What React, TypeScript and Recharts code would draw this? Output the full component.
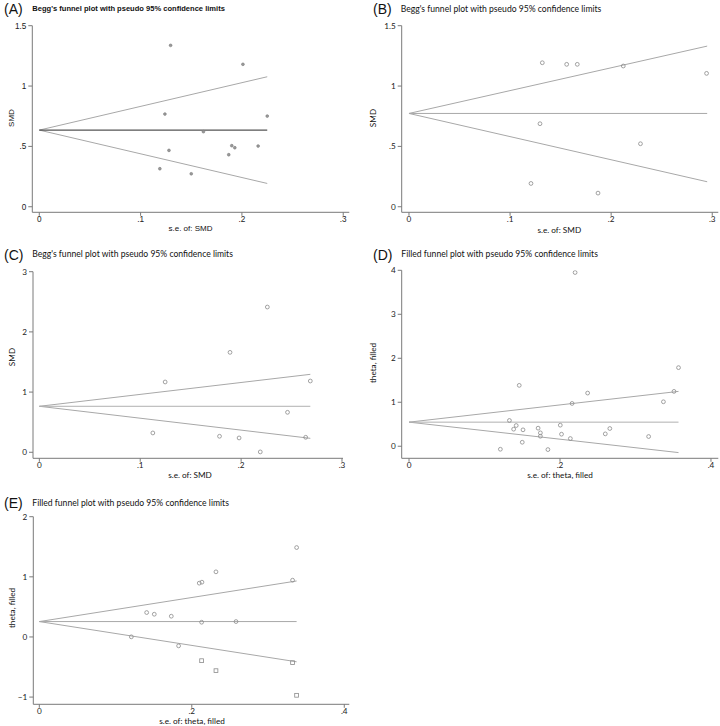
import React from "react";
import { ScatterChart, Scatter, XAxis, YAxis } from "recharts";

// ---------- DATA ----------
// Panel A: Begg's funnel (SMD vs s.e.)
const pointsA = [
  { x: 0.1296, y: 1.337 }, { x: 0.201, y: 1.18 }, { x: 0.124, y: 0.768 },
  { x: 0.225, y: 0.751 }, { x: 0.162, y: 0.622 }, { x: 0.128, y: 0.467 },
  { x: 0.19, y: 0.506 }, { x: 0.193, y: 0.489 }, { x: 0.216, y: 0.503 },
  { x: 0.187, y: 0.431 }, { x: 0.119, y: 0.315 }, { x: 0.15, y: 0.273 },
];
const centerA = [{ x: 0, y: 0.635 }, { x: 0.225, y: 0.635 }];
const upperA = [{ x: 0, y: 0.635 }, { x: 0.225, y: 1.077 }];
const lowerA = [{ x: 0, y: 0.635 }, { x: 0.225, y: 0.193 }];

// Panel B
const pointsB = [
  { x: 0.1319, y: 1.193 }, { x: 0.156, y: 1.18 }, { x: 0.1665, y: 1.18 },
  { x: 0.212, y: 1.166 }, { x: 0.2944, y: 1.105 }, { x: 0.1296, y: 0.688 },
  { x: 0.229, y: 0.522 }, { x: 0.1207, y: 0.193 }, { x: 0.187, y: 0.113 },
];
const centerB = [{ x: 0, y: 0.773 }, { x: 0.295, y: 0.773 }];
const upperB = [{ x: 0, y: 0.773 }, { x: 0.295, y: 1.331 }];
const lowerB = [{ x: 0, y: 0.773 }, { x: 0.295, y: 0.207 }];

// Panel C
const pointsC = [
  { x: 0.226, y: 2.413 }, { x: 0.189, y: 1.66 }, { x: 0.1247, y: 1.168 },
  { x: 0.2686, y: 1.184 }, { x: 0.246, y: 0.664 }, { x: 0.1125, y: 0.321 },
  { x: 0.1786, y: 0.266 }, { x: 0.198, y: 0.238 }, { x: 0.264, y: 0.249 },
  { x: 0.219, y: 0.006 },
];
const centerC = [{ x: 0, y: 0.764 }, { x: 0.2686, y: 0.764 }];
const upperC = [{ x: 0, y: 0.764 }, { x: 0.2686, y: 1.295 }];
const lowerC = [{ x: 0, y: 0.764 }, { x: 0.2686, y: 0.232 }];

// Panel D: filled funnel
const pointsD = [
  { x: 0.22, y: 3.95 }, { x: 0.357, y: 1.787 }, { x: 0.146, y: 1.384 },
  { x: 0.2366, y: 1.209 }, { x: 0.351, y: 1.247 }, { x: 0.337, y: 1.011 },
  { x: 0.216, y: 0.973 }, { x: 0.133, y: 0.586 }, { x: 0.142, y: 0.471 },
  { x: 0.2004, y: 0.479 }, { x: 0.1386, y: 0.388 }, { x: 0.151, y: 0.373 },
  { x: 0.171, y: 0.411 }, { x: 0.266, y: 0.403 }, { x: 0.174, y: 0.304 },
  { x: 0.174, y: 0.228 }, { x: 0.202, y: 0.274 }, { x: 0.26, y: 0.281 },
  { x: 0.2137, y: 0.175 }, { x: 0.3174, y: 0.221 }, { x: 0.15, y: 0.091 },
  { x: 0.121, y: -0.068 }, { x: 0.184, y: -0.076 },
];
const centerD = [{ x: 0, y: 0.548 }, { x: 0.357, y: 0.548 }];
const upperD = [{ x: 0, y: 0.548 }, { x: 0.357, y: 1.247 }];
const lowerD = [{ x: 0, y: 0.548 }, { x: 0.357, y: -0.144 }];

// Panel E: filled funnel (observed + imputed)
const pointsE = [
  { x: 0.3375, y: 1.487 }, { x: 0.2317, y: 1.083 }, { x: 0.2098, y: 0.895 },
  { x: 0.2133, y: 0.911 }, { x: 0.3322, y: 0.944 }, { x: 0.1408, y: 0.406 },
  { x: 0.1508, y: 0.378 }, { x: 0.1731, y: 0.345 }, { x: 0.2129, y: 0.245 },
  { x: 0.258, y: 0.256 }, { x: 0.1207, y: 0.002 }, { x: 0.1827, y: -0.148 },
];
const filledE = [
  { x: 0.2129, y: -0.395 }, { x: 0.2317, y: -0.561 },
  { x: 0.3322, y: -0.428 }, { x: 0.3375, y: -0.97 },
];
const centerE = [{ x: 0, y: 0.256 }, { x: 0.3375, y: 0.256 }];
const upperE = [{ x: 0, y: 0.256 }, { x: 0.3375, y: 0.931 }];
const lowerE = [{ x: 0, y: 0.256 }, { x: 0.3375, y: -0.413 }];

// Ticks
const xTicks3 = [0, 0.1, 0.2, 0.3];
const xLabels3 = ["0", ".1", ".2", ".3"];
const xTicks4 = [0, 0.2, 0.4];
const xLabels4 = ["0", ".2", ".4"];
const yTicksAB = [0, 0.5, 1, 1.5];
const yLabelsAB = ["0", ".5", "1", "1.5"];
const yTicksC = [0, 1, 2, 3];
const yLabelsC = ["0", "1", "2", "3"];
const yTicksD = [0, 1, 2, 3, 4];
const yLabelsD = ["0", "1", "2", "3", "4"];
const yTicksE = [-1, 0, 1, 2];
const yLabelsE = ["\u22121", "0", "1", "2"];

const titleBegg = "Begg's funnel plot with pseudo 95% confidence limits";
const titleFilled = "Filled funnel plot with pseudo 95% confidence limits";

// ---------- SHAPES ----------
const NoShape = () => <g />;
const HollowCircle = (p: any) => (
  <circle cx={p.cx} cy={p.cy} r={1.9} fill="none" stroke="#8a8a8a" strokeWidth={0.8} />
);
const SmallDot = (p: any) => (
  <circle cx={p.cx} cy={p.cy} r={1.4} fill="#9a9a9a" stroke="#7a7a7a" strokeWidth={0.6} />
);
const SquareMark = (p: any) => (
  <rect x={p.cx - 1.9} y={p.cy - 1.9} width={3.8} height={3.8} fill="none" stroke="#8a8a8a" strokeWidth={0.8} />
);

type Cfg = {
  box: { left: number; top: number; w: number; h: number };
  plot: { left: number; right: number; top: number; bottom: number };
  xDomain: [number, number];
  yDomain: [number, number];
  xTicks: number[];
  xLabels: string[];
  yTicks: number[];
  yLabels: string[];
  points: any[];
  filled?: any[];
  center: any[];
  upper: any[];
  lower: any[];
  centerColor: string;
  centerWidth: number;
  font: string;
  marker: any;
};

const Panel = ({ c }: { c: Cfg }) => {
  const { box, plot } = c;
  const margin = {
    top: plot.top - box.top,
    right: box.left + box.w - plot.right,
    left: 0,
    bottom: 0,
  };
  const fmtX = (v: number) => {
    const i = c.xTicks.findIndex((t) => Math.abs(t - v) < 1e-9);
    return i >= 0 ? c.xLabels[i] : "";
  };
  const fmtY = (v: number) => {
    const i = c.yTicks.findIndex((t) => Math.abs(t - v) < 1e-9);
    return i >= 0 ? c.yLabels[i] : "";
  };
  const axisStroke = "#7a7a7a";
  return (
    <div style={{ position: "absolute", left: box.left, top: box.top, fontFamily: c.font }}>
      <ScatterChart width={box.w} height={box.h} margin={margin}>
        <XAxis
          type="number"
          dataKey="x"
          domain={c.xDomain}
          allowDataOverflow
          ticks={c.xTicks}
          tickFormatter={fmtX}
          height={box.top + box.h - plot.bottom}
          stroke={axisStroke}
          tickSize={3.5}
          tickMargin={0.5}
          tick={{ fontSize: 8.2, fill: "#222" }}
          interval={0}
        />
        <YAxis
          type="number"
          dataKey="y"
          domain={c.yDomain}
          allowDataOverflow
          ticks={c.yTicks}
          tickFormatter={fmtY}
          width={plot.left - box.left}
          stroke={axisStroke}
          tickSize={4}
          tickMargin={2}
          tick={{ fontSize: 8.2, fill: "#222" }}
          interval={0}
        />
        <Scatter data={c.upper} line={{ stroke: "#a8a8a8", strokeWidth: 1 }} shape={NoShape} isAnimationActive={false} />
        <Scatter data={c.lower} line={{ stroke: "#a8a8a8", strokeWidth: 1 }} shape={NoShape} isAnimationActive={false} />
        <Scatter data={c.center} line={{ stroke: c.centerColor, strokeWidth: c.centerWidth }} shape={NoShape} isAnimationActive={false} />
        <Scatter data={c.points} shape={c.marker} isAnimationActive={false} />
        {c.filled ? <Scatter data={c.filled} shape={SquareMark} isAnimationActive={false} /> : null}
      </ScatterChart>
    </div>
  );
};

const Txt = ({ x, y, text, size, font, bold, anchor, rotate }: any) => {
  const tx = anchor === "middle" ? "-50%" : "0";
  return (
    <div
      style={{
        position: "absolute",
        left: x,
        top: y,
        fontSize: size,
        fontFamily: font,
        fontWeight: bold ? 700 : 400,
        color: "#111",
        whiteSpace: "nowrap",
        lineHeight: 1,
        transform: rotate
          ? "translate(-50%,-50%) rotate(-90deg)"
          : `translate(${tx},-50%)`,
      }}
    >
      {text}
    </div>
  );
};

const ARIAL = "'Liberation Sans', Arial, sans-serif";
const SANS = "Lato, 'Open Sans', sans-serif";

const cfgA: Cfg = {
  box: { left: 0, top: 0, w: 360, h: 235 },
  plot: { left: 32.3, right: 349.3, top: 25.7, bottom: 212.3 },
  xDomain: [-0.0069, 0.306], yDomain: [-0.046, 1.5],
  xTicks: xTicks3, xLabels: xLabels3, yTicks: yTicksAB, yLabels: yLabelsAB,
  points: pointsA, center: centerA, upper: upperA, lower: lowerA,
  centerColor: "#555", centerWidth: 1.2, font: ARIAL, marker: SmallDot,
};
const cfgB: Cfg = {
  box: { left: 360, top: 0, w: 360, h: 235 },
  plot: { left: 401.7, right: 718.3, top: 25.7, bottom: 212.3 },
  xDomain: [-0.0072, 0.306], yDomain: [-0.046, 1.5],
  xTicks: xTicks3, xLabels: xLabels3, yTicks: yTicksAB, yLabels: yLabelsAB,
  points: pointsB, center: centerB, upper: upperB, lower: lowerB,
  centerColor: "#a8a8a8", centerWidth: 1, font: SANS, marker: HollowCircle,
};
const cfgC: Cfg = {
  box: { left: 0, top: 235, w: 360, h: 235 },
  plot: { left: 33, right: 343, top: 271.7, bottom: 458.3 },
  xDomain: [-0.0063, 0.301], yDomain: [-0.1, 3],
  xTicks: xTicks3, xLabels: xLabels3, yTicks: yTicksC, yLabels: yLabelsC,
  points: pointsC, center: centerC, upper: upperC, lower: lowerC,
  centerColor: "#b0b0b0", centerWidth: 1, font: SANS, marker: HollowCircle,
};
const cfgD: Cfg = {
  box: { left: 360, top: 235, w: 360, h: 235 },
  plot: { left: 401.7, right: 718.3, top: 270.3, bottom: 458.3 },
  xDomain: [-0.0097, 0.4097], yDomain: [-0.274, 4],
  xTicks: xTicks4, xLabels: xLabels4, yTicks: yTicksD, yLabels: yLabelsD,
  points: pointsD, center: centerD, upper: upperD, lower: lowerD,
  centerColor: "#b0b0b0", centerWidth: 1, font: SANS, marker: HollowCircle,
};
const cfgE: Cfg = {
  box: { left: 0, top: 470, w: 360, h: 256 },
  plot: { left: 33.3, right: 349.3, top: 516.7, bottom: 704.3 },
  xDomain: [-0.0079, 0.4066], yDomain: [-1.12, 2],
  xTicks: xTicks4, xLabels: xLabels4, yTicks: yTicksE, yLabels: yLabelsE,
  points: pointsE, filled: filledE, center: centerE, upper: upperE, lower: lowerE,
  centerColor: "#a8a8a8", centerWidth: 1, font: SANS, marker: HollowCircle,
};

export default function App() {
  return (
    <div style={{ position: "absolute", left: 0, top: 0, width: 720, height: 726, background: "#fff", overflow: "hidden" }}>
      <Panel c={cfgA} />
      <Panel c={cfgB} />
      <Panel c={cfgC} />
      <Panel c={cfgD} />
      <Panel c={cfgE} />

      <Txt x={4} y={9} text="(A)" size={14} font={ARIAL} />
      <Txt x={32.3} y={9} text={titleBegg} size={7.55} font={ARIAL} bold />
      <Txt x={12} y={118} text="SMD" size={8} font={ARIAL} rotate />
      <Txt x={190.5} y={229} text="s.e. of: SMD" size={8} font={ARIAL} anchor="middle" />

      <Txt x={373} y={9} text="(B)" size={14} font={ARIAL} />
      <Txt x={400.7} y={9} text={titleBegg} size={8.6} font={SANS} />
      <Txt x={372.7} y={118} text="SMD" size={8.2} font={SANS} rotate />
      <Txt x={559.3} y={229.5} text="s.e. of: SMD" size={8.2} font={SANS} anchor="middle" />

      <Txt x={4} y={254.5} text="(C)" size={14} font={ARIAL} />
      <Txt x={32.3} y={254.3} text={titleBegg} size={8.6} font={SANS} />
      <Txt x={12} y={356.7} text="SMD" size={8.2} font={SANS} rotate />
      <Txt x={190} y={474.5} text="s.e. of: SMD" size={8.2} font={SANS} anchor="middle" />

      <Txt x={373} y={254.5} text="(D)" size={14} font={ARIAL} />
      <Txt x={401.3} y={254} text={titleFilled} size={8.6} font={SANS} />
      <Txt x={373.3} y={363} text="theta, filled" size={8.2} font={SANS} rotate />
      <Txt x={560} y={474.5} text="s.e. of: theta, filled" size={8.2} font={SANS} anchor="middle" />

      <Txt x={4} y={503.3} text="(E)" size={14} font={ARIAL} />
      <Txt x={32.3} y={503.3} text={titleFilled} size={8.6} font={SANS} />
      <Txt x={12} y={608} text="theta, filled" size={8.2} font={SANS} rotate />
      <Txt x={192} y={720.7} text="s.e. of: theta, filled" size={8.2} font={SANS} anchor="middle" />
    </div>
  );
}
